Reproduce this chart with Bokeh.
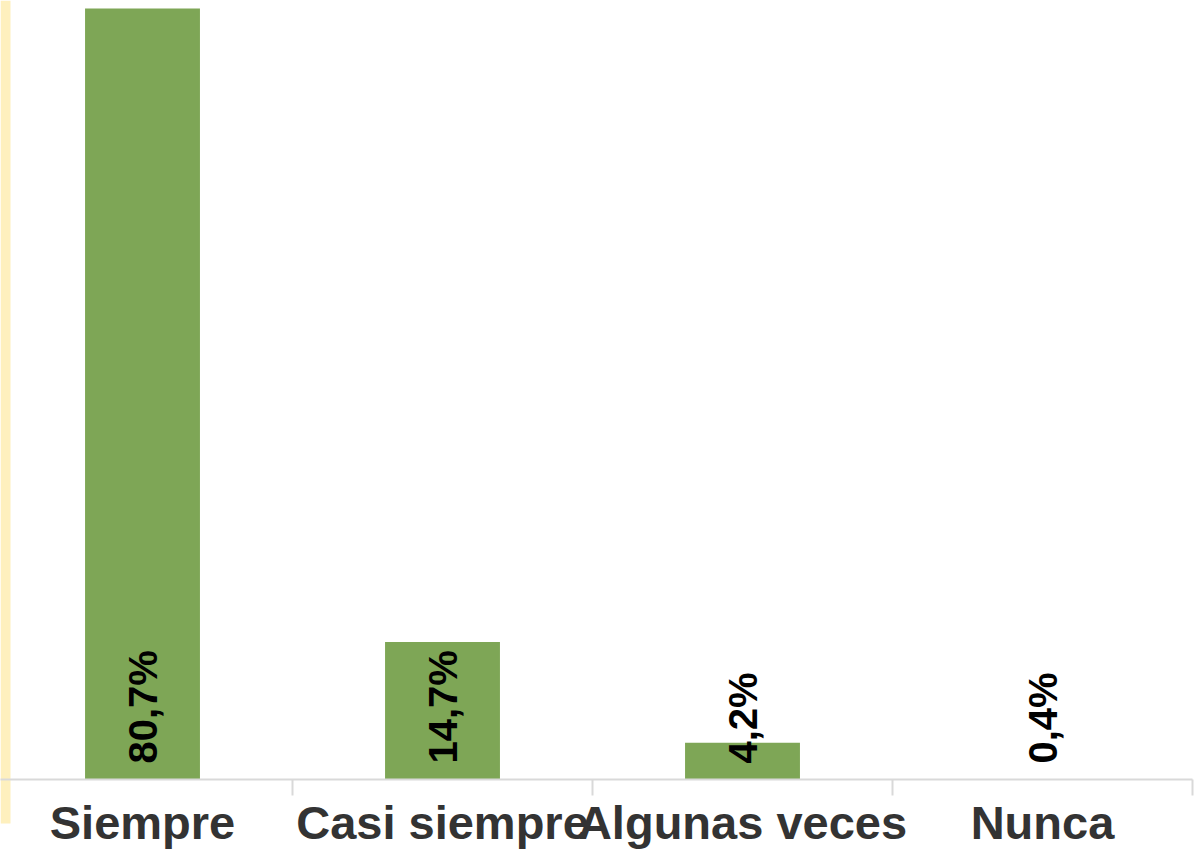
import math
from bokeh.plotting import figure
from bokeh.models import Range1d, ColumnDataSource, BoxAnnotation
from bokeh.core.properties import value
from bokeh.embed import file_html
from bokeh.resources import INLINE

categories = ["Siempre", "Casi siempre", "Algunas veces", "Nunca"]
values = [80.7, 14.7, 4.2, 0.4]
labels = ["80,7%", "14,7%", "4,2%", "0,4%"]

# layout constants (pixels)
W, H = 1194, 852
CAT_PX = 300.0          # width of one category slot
X0_PX = -8.0            # screen x of the left edge of the first slot
BASE_PX = 779.0         # screen y of the category axis line
TOP_PX = 8.0            # screen y of the top of the tallest bar
AXIS_MIN = 0.36         # value at the axis line

scale = (BASE_PX - TOP_PX) / (max(values) - AXIS_MIN)
x_start = (0 - X0_PX) / CAT_PX
x_end = (W - X0_PX) / CAT_PX
y_end = max(values) + TOP_PX / scale
y_start = AXIS_MIN - (H - BASE_PX) / scale

centers = [i + 0.5 for i in range(len(categories))]
boundaries = [i + 1.0 for i in range(len(categories))]

src = ColumnDataSource(dict(x=centers, top=values, lab=labels, cat=categories))

p = figure(width=W, height=H, output_backend="svg", toolbar_location=None,
           x_range=Range1d(x_start, x_end), y_range=Range1d(y_start, y_end),
           min_border=0)
p.outline_line_color = None
p.xgrid.visible = False
p.ygrid.visible = False
p.xaxis.visible = False
p.yaxis.visible = False
p.background_fill_color = "white"
p.border_fill_color = "white"

# left yellow strip (screen units here count y from the bottom)
p.add_layout(BoxAnnotation(left=0, right=10, top=H, bottom=H - 823,
                           left_units="screen", right_units="screen",
                           top_units="screen", bottom_units="screen",
                           fill_color="#FEF0BE", fill_alpha=1, line_color=None,
                           level="underlay"))

# bars
p.vbar(x="x", top="top", bottom=AXIS_MIN, width=0.383, source=src,
       fill_color="#7EA656", line_color=None)

# category axis line and boundary ticks
p.segment(x0=0, y0=AXIS_MIN, x1=len(categories), y1=AXIS_MIN,
          line_color="#d9d9d9", line_width=2)
p.ray(x=boundaries, y=AXIS_MIN, length=16, length_units="screen",
      angle=-math.pi / 2, line_color="#d9d9d9", line_width=2)

# value labels (rotated)
p.text(x="x", y=AXIS_MIN, text="lab", source=src, angle=math.pi / 2,
       text_align="left", text_baseline="middle", y_offset=-16,
       text_font=value("Liberation Sans"), text_font_style="bold",
       text_font_size="40px", text_color="black")

# category labels
p.text(x="x", y=AXIS_MIN, text="cat", source=src,
       text_align="center", text_baseline="middle", y_offset=43,
       text_font=value("Liberation Sans"), text_font_style="bold",
       text_font_size="47px", text_color="#333333")

open("out.html", "w").write(file_html(p, INLINE))
